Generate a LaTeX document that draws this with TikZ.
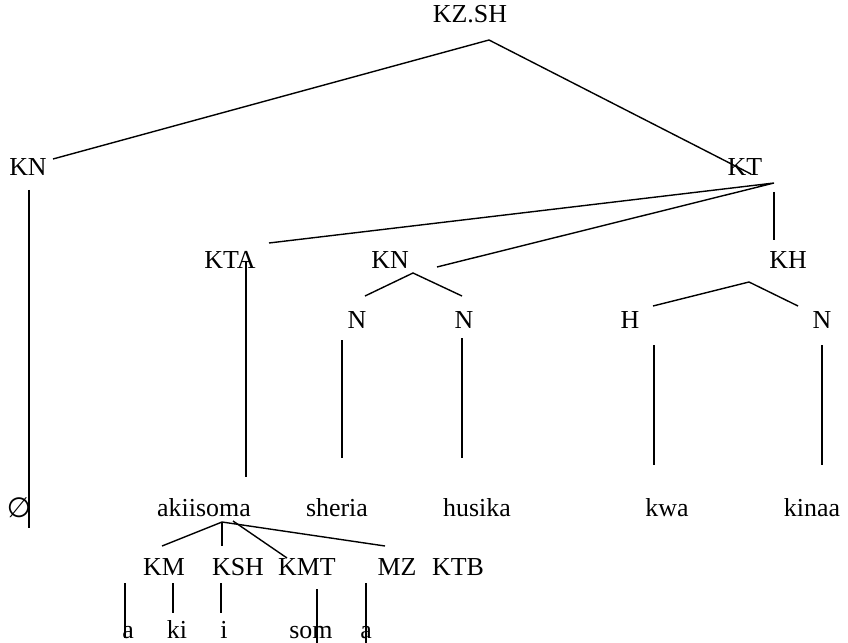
\documentclass[tikz,border=0pt]{standalone}
\usepackage{fontspec}
\setmainfont{Liberation Serif}
\newfontfamily\symfont{DejaVu Sans}
\begin{document}
\begin{tikzpicture}[x=1bp,y=-1bp,
  lbl/.style={inner sep=0pt,anchor=base,font=\fontsize{26}{30}\selectfont},
  branch/.style={line width=1.4bp,line cap=butt}]
\useasboundingbox (0,0) rectangle (848,643);

% labels
\node[lbl] (root) at (470,23) {KZ.SH};
\node[lbl] (kn1) at (28,176) {KN};
\node[lbl] (kt) at (745,176) {KT};
\node[lbl] (kta) at (230,268) {KTA};
\node[lbl] (kn2) at (390,268) {KN};
\node[lbl] (kh) at (788,268) {KH};
\node[lbl] (n1) at (357,328) {N};
\node[lbl] (n2) at (464,328) {N};
\node[lbl] (h) at (630,328) {H};
\node[lbl] (n3) at (822,328) {N};
\node[lbl] (empty) at (19,517) {\symfont\fontsize{28}{32}\selectfont ∅};
\node[lbl] (akiisoma) at (204,516) {akiisoma};
\node[lbl] (sheria) at (337,516) {sheria};
\node[lbl] (husika) at (477,516) {husika};
\node[lbl] (kwa) at (667,516) {kwa};
\node[lbl] (kinaa) at (812,516) {kinaa};
\node[lbl] (km) at (164,575) {KM};
\node[lbl] (ksh) at (238,575) {KSH};
\node[lbl] (kmt) at (307,575) {KMT};
\node[lbl] (mz) at (397,575) {MZ};
\node[lbl] (ktb) at (458,575) {KTB};
\node[lbl] (ma) at (128,638) {a};
\node[lbl] (mki) at (177,638) {ki};
\node[lbl] (mi) at (224,638) {i};
\node[lbl] (msom) at (311,638) {som};
\node[lbl] (ma2) at (366,638) {a};

% branch end points
\coordinate (root-b) at (489,40);
\coordinate (kn1-t) at (53,159);
\coordinate (kt-t) at (751,174);
\coordinate (kn1-b) at (29,190);
\coordinate (empty-t) at (29,528);
\coordinate (kt-b) at (774,183);
\coordinate (kt-v) at (774,192);
\coordinate (kta-t) at (269,243);
\coordinate (kn2-t) at (437,267);
\coordinate (kh-t) at (774,240);
\coordinate (kta-b) at (246,261);
\coordinate (akiisoma-t) at (246,477);
\coordinate (kn2-b) at (413,273);
\coordinate (n1-t) at (365,296);
\coordinate (n2-t) at (462,296);
\coordinate (kh-b) at (749,282);
\coordinate (h-t) at (653,306);
\coordinate (n3-t) at (798,306);
\coordinate (n1-b) at (342,340);
\coordinate (sheria-t) at (342,458);
\coordinate (n2-b) at (462,338);
\coordinate (husika-t) at (462,458);
\coordinate (h-b) at (654,345);
\coordinate (kwa-t) at (654,465);
\coordinate (n3-b) at (822,345);
\coordinate (kinaa-t) at (822,465);
\coordinate (akiisoma-b) at (222,522);
\coordinate (akiisoma-b2) at (233,521);
\coordinate (km-t) at (162,546);
\coordinate (ksh-t) at (222,546);
\coordinate (kmt-t) at (287,558);
\coordinate (mz-t) at (385,546);
\coordinate (ma-t) at (125,583);
\coordinate (ma-b) at (125,638);
\coordinate (mki-t) at (173,583);
\coordinate (mki-b) at (173,613);
\coordinate (mi-t) at (221,583);
\coordinate (mi-b) at (221,613);
\coordinate (msom-t) at (317,589);
\coordinate (msom-b) at (317,643);
\coordinate (ma2-t) at (366,583);
\coordinate (ma2-b) at (366,643);

% branches
\draw[branch] (kn1-t) -- (root-b) -- (kt-t);
\draw[branch] (kn1-b) -- (empty-t);
\draw[branch] (kta-t) -- (kt-b) -- (kn2-t);
\draw[branch] (kt-v) -- (kh-t);
\draw[branch] (kta-b) -- (akiisoma-t);
\draw[branch] (n1-t) -- (kn2-b) -- (n2-t);
\draw[branch] (h-t) -- (kh-b) -- (n3-t);
\draw[branch] (n1-b) -- (sheria-t);
\draw[branch] (n2-b) -- (husika-t);
\draw[branch] (h-b) -- (kwa-t);
\draw[branch] (n3-b) -- (kinaa-t);
\draw[branch] (km-t) -- (akiisoma-b) -- (mz-t);
\draw[branch] (akiisoma-b) -- (ksh-t);
\draw[branch] (akiisoma-b2) -- (kmt-t);
\draw[branch] (ma-t) -- (ma-b);
\draw[branch] (mki-t) -- (mki-b);
\draw[branch] (mi-t) -- (mi-b);
\draw[branch] (msom-t) -- (msom-b);
\draw[branch] (ma2-t) -- (ma2-b);
\end{tikzpicture}
\end{document}
